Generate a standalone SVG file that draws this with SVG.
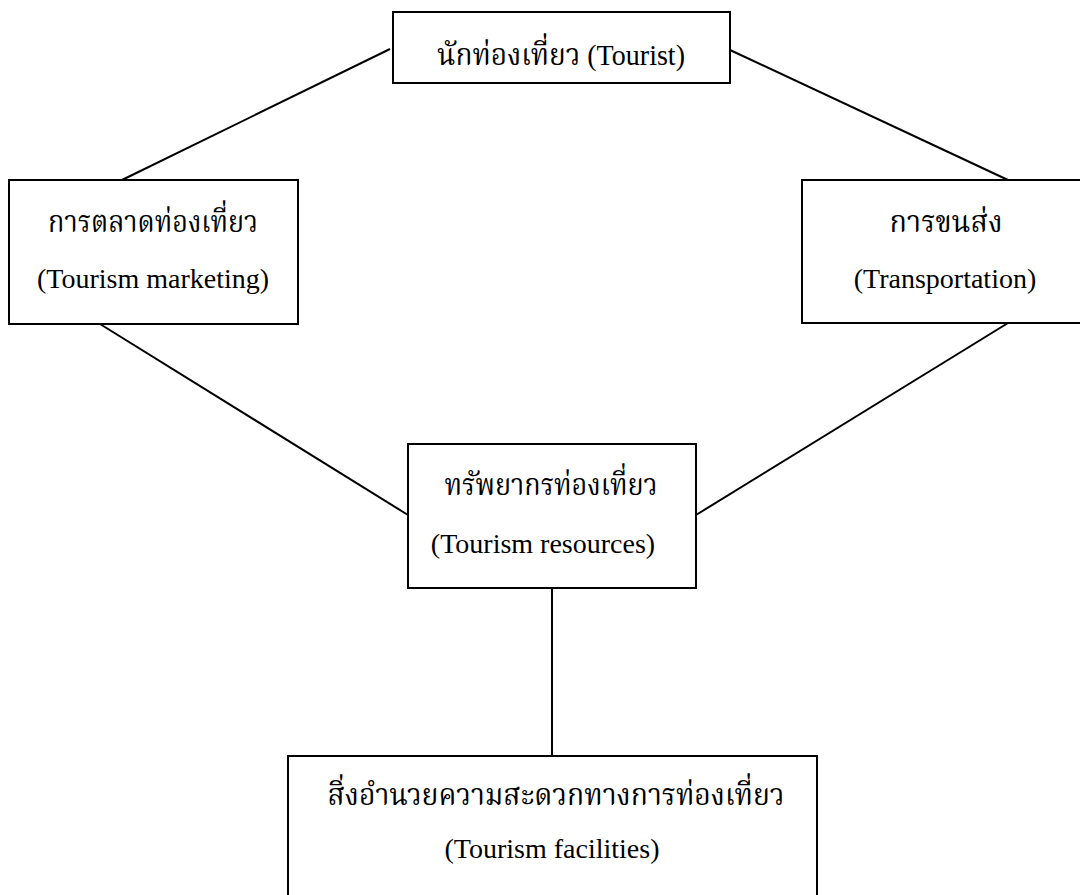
<svg xmlns="http://www.w3.org/2000/svg" width="1080" height="895" viewBox="0 0 1080 895">
<style>
.box{fill:#fff;stroke:#000;stroke-width:2}
.ln{stroke:#000;stroke-width:2;fill:none}
text{font-family:"Liberation Serif","Noto Serif Thai","Noto Sans Thai","Noto Sans",serif;fill:#000;text-anchor:middle}
.en{font-size:28px}
.th{font-size:30px}
</style>
<rect width="1080" height="895" fill="#fff"/>
<g id="connectors">
<line class="ln" x1="390" y1="49" x2="122" y2="180"/>
<line class="ln" x1="730" y1="50" x2="1008" y2="180"/>
<line class="ln" x1="100" y1="324" x2="408" y2="515"/>
<line class="ln" x1="1008" y1="323" x2="696" y2="515"/>
<line class="ln" x1="552" y1="588" x2="552" y2="756"/>
</g>
<g id="tourist">
<rect class="box" x="393" y="12" width="337" height="71"/>
<text class="th" x="561" y="65" textLength="248" lengthAdjust="spacingAndGlyphs">นักท่องเที่ยว (Tourist)</text>
</g>
<g id="marketing">
<rect class="box" x="9" y="180" width="289" height="144"/>
<text class="th" x="153" y="232" textLength="210" lengthAdjust="spacingAndGlyphs">การตลาดท่องเที่ยว</text>
<text class="en" x="153" y="288">(Tourism marketing)</text>
</g>
<g id="transport">
<rect class="box" x="802" y="180" width="290" height="143"/>
<text class="th" x="946" y="232" textLength="113" lengthAdjust="spacingAndGlyphs">การขนส่ง</text>
<text class="en" x="945" y="288">(Transportation)</text>
</g>
<g id="resources">
<rect class="box" x="408" y="444" width="288" height="144"/>
<text class="th" x="551" y="495" textLength="213" lengthAdjust="spacingAndGlyphs">ทรัพยากรท่องเที่ยว</text>
<text class="en" x="543" y="553">(Tourism resources)</text>
</g>
<g id="facilities">
<rect class="box" x="288" y="756" width="529" height="160"/>
<text class="th" x="556" y="805" textLength="457" lengthAdjust="spacingAndGlyphs">สิ่งอำนวยความสะดวกทางการท่องเที่ยว</text>
<text class="en" x="552" y="858">(Tourism facilities)</text>
</g>
</svg>
